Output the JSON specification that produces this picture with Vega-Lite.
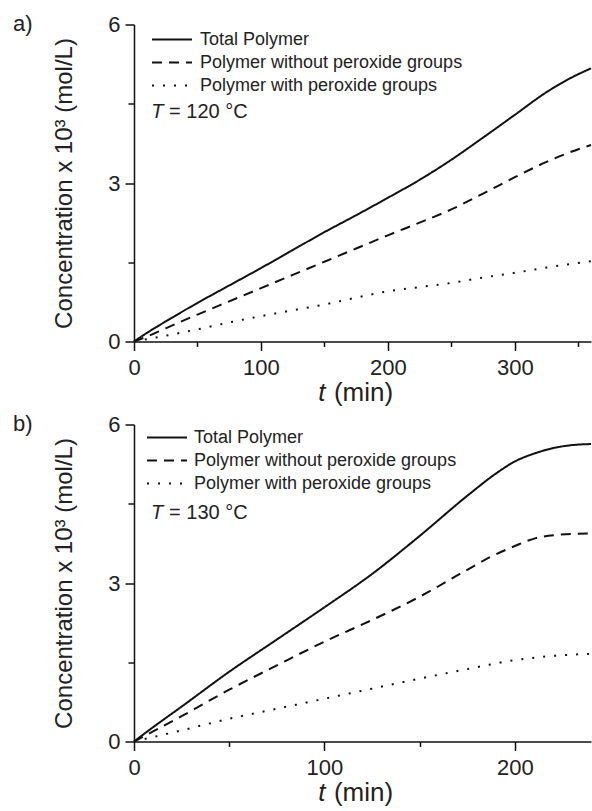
{
  "$schema": "https://vega.github.io/schema/vega-lite/v6.json",
  "padding": {"left": 13, "top": 12.5, "right": 0, "bottom": 0},
  "spacing": 7,
  "resolve": {"scale": {"strokeDash": "independent"}, "legend": {"strokeDash": "independent"}},
  "config": {
    "font": "Liberation Sans",
    "view": {"stroke": null},
    "axis": {
      "grid": false,
      "domainColor": "#111",
      "domainWidth": 1.5,
      "tickColor": "#111",
      "tickWidth": 1.5,
      "labelColor": "#222",
      "labelFont": "Liberation Sans",
      "labelFontSize": 22,
      "titleColor": "#222",
      "titleFont": "Liberation Sans",
      "titleFontWeight": "normal"
    },
    "legend": {"padding": 0},
    "title": {"font": "Liberation Sans", "fontWeight": "normal", "color": "#222"}
  },
  "datasets": {
    "a": [
      {"t": 0, "c": 0, "s": "Total Polymer"},
      {"t": 10, "c": 0.16, "s": "Total Polymer"},
      {"t": 25, "c": 0.38, "s": "Total Polymer"},
      {"t": 50, "c": 0.73, "s": "Total Polymer"},
      {"t": 75, "c": 1.06, "s": "Total Polymer"},
      {"t": 100, "c": 1.39, "s": "Total Polymer"},
      {"t": 125, "c": 1.73, "s": "Total Polymer"},
      {"t": 150, "c": 2.07, "s": "Total Polymer"},
      {"t": 175, "c": 2.39, "s": "Total Polymer"},
      {"t": 200, "c": 2.72, "s": "Total Polymer"},
      {"t": 225, "c": 3.06, "s": "Total Polymer"},
      {"t": 250, "c": 3.44, "s": "Total Polymer"},
      {"t": 275, "c": 3.86, "s": "Total Polymer"},
      {"t": 300, "c": 4.29, "s": "Total Polymer"},
      {"t": 325, "c": 4.72, "s": "Total Polymer"},
      {"t": 345, "c": 5.0, "s": "Total Polymer"},
      {"t": 360, "c": 5.17, "s": "Total Polymer"},
      {"t": 0, "c": 0, "s": "Polymer without peroxide groups"},
      {"t": 10, "c": 0.09, "s": "Polymer without peroxide groups"},
      {"t": 25, "c": 0.25, "s": "Polymer without peroxide groups"},
      {"t": 50, "c": 0.51, "s": "Polymer without peroxide groups"},
      {"t": 75, "c": 0.76, "s": "Polymer without peroxide groups"},
      {"t": 100, "c": 1.01, "s": "Polymer without peroxide groups"},
      {"t": 125, "c": 1.26, "s": "Polymer without peroxide groups"},
      {"t": 150, "c": 1.51, "s": "Polymer without peroxide groups"},
      {"t": 175, "c": 1.76, "s": "Polymer without peroxide groups"},
      {"t": 200, "c": 2.01, "s": "Polymer without peroxide groups"},
      {"t": 225, "c": 2.25, "s": "Polymer without peroxide groups"},
      {"t": 250, "c": 2.5, "s": "Polymer without peroxide groups"},
      {"t": 275, "c": 2.8, "s": "Polymer without peroxide groups"},
      {"t": 300, "c": 3.11, "s": "Polymer without peroxide groups"},
      {"t": 325, "c": 3.4, "s": "Polymer without peroxide groups"},
      {"t": 350, "c": 3.64, "s": "Polymer without peroxide groups"},
      {"t": 360, "c": 3.72, "s": "Polymer without peroxide groups"},
      {"t": 0, "c": 0, "s": "Polymer with peroxide groups"},
      {"t": 25, "c": 0.11, "s": "Polymer with peroxide groups"},
      {"t": 50, "c": 0.23, "s": "Polymer with peroxide groups"},
      {"t": 75, "c": 0.36, "s": "Polymer with peroxide groups"},
      {"t": 100, "c": 0.48, "s": "Polymer with peroxide groups"},
      {"t": 125, "c": 0.59, "s": "Polymer with peroxide groups"},
      {"t": 150, "c": 0.7, "s": "Polymer with peroxide groups"},
      {"t": 175, "c": 0.83, "s": "Polymer with peroxide groups"},
      {"t": 200, "c": 0.95, "s": "Polymer with peroxide groups"},
      {"t": 225, "c": 1.03, "s": "Polymer with peroxide groups"},
      {"t": 250, "c": 1.11, "s": "Polymer with peroxide groups"},
      {"t": 275, "c": 1.21, "s": "Polymer with peroxide groups"},
      {"t": 300, "c": 1.3, "s": "Polymer with peroxide groups"},
      {"t": 325, "c": 1.4, "s": "Polymer with peroxide groups"},
      {"t": 360, "c": 1.52, "s": "Polymer with peroxide groups"}
    ],
    "b": [
      {"t": 0, "c": 0, "s": "Total Polymer"},
      {"t": 10, "c": 0.27, "s": "Total Polymer"},
      {"t": 25, "c": 0.66, "s": "Total Polymer"},
      {"t": 50, "c": 1.32, "s": "Total Polymer"},
      {"t": 75, "c": 1.93, "s": "Total Polymer"},
      {"t": 100, "c": 2.54, "s": "Total Polymer"},
      {"t": 125, "c": 3.17, "s": "Total Polymer"},
      {"t": 150, "c": 3.89, "s": "Total Polymer"},
      {"t": 175, "c": 4.65, "s": "Total Polymer"},
      {"t": 190, "c": 5.07, "s": "Total Polymer"},
      {"t": 200, "c": 5.3, "s": "Total Polymer"},
      {"t": 211, "c": 5.46, "s": "Total Polymer"},
      {"t": 221, "c": 5.56, "s": "Total Polymer"},
      {"t": 230, "c": 5.61, "s": "Total Polymer"},
      {"t": 240, "c": 5.63, "s": "Total Polymer"},
      {"t": 0, "c": 0, "s": "Polymer without peroxide groups"},
      {"t": 10, "c": 0.19, "s": "Polymer without peroxide groups"},
      {"t": 25, "c": 0.48, "s": "Polymer without peroxide groups"},
      {"t": 50, "c": 0.98, "s": "Polymer without peroxide groups"},
      {"t": 75, "c": 1.44, "s": "Polymer without peroxide groups"},
      {"t": 100, "c": 1.89, "s": "Polymer without peroxide groups"},
      {"t": 125, "c": 2.3, "s": "Polymer without peroxide groups"},
      {"t": 150, "c": 2.74, "s": "Polymer without peroxide groups"},
      {"t": 175, "c": 3.25, "s": "Polymer without peroxide groups"},
      {"t": 187, "c": 3.49, "s": "Polymer without peroxide groups"},
      {"t": 200, "c": 3.7, "s": "Polymer without peroxide groups"},
      {"t": 211, "c": 3.85, "s": "Polymer without peroxide groups"},
      {"t": 222, "c": 3.91, "s": "Polymer without peroxide groups"},
      {"t": 240, "c": 3.94, "s": "Polymer without peroxide groups"},
      {"t": 0, "c": 0, "s": "Polymer with peroxide groups"},
      {"t": 25, "c": 0.21, "s": "Polymer with peroxide groups"},
      {"t": 50, "c": 0.43, "s": "Polymer with peroxide groups"},
      {"t": 75, "c": 0.62, "s": "Polymer with peroxide groups"},
      {"t": 100, "c": 0.81, "s": "Polymer with peroxide groups"},
      {"t": 125, "c": 1.0, "s": "Polymer with peroxide groups"},
      {"t": 150, "c": 1.19, "s": "Polymer with peroxide groups"},
      {"t": 175, "c": 1.37, "s": "Polymer with peroxide groups"},
      {"t": 200, "c": 1.54, "s": "Polymer with peroxide groups"},
      {"t": 220, "c": 1.62, "s": "Polymer with peroxide groups"},
      {"t": 240, "c": 1.66, "s": "Polymer with peroxide groups"}
    ]
  },
  "vconcat": [
    {
      "width": 457,
      "height": 317,
      "title": {"text": "a)", "anchor": "start", "frame": "group", "dx": -121, "dy": 39, "baseline": "alphabetic", "offset": 0, "fontSize": 22},
      "layer": [
        {
          "data": {"name": "a"},
          "mark": {"type": "line", "color": "#111", "strokeWidth": 2, "interpolate": "monotone"},
          "encoding": {
            "x": {"field": "t", "type": "quantitative", "scale": {"domain": [0, 360], "nice": false},
              "axis": {"orient": "bottom", "values": [0, 100, 200, 300], "tickSize": 9, "labelPadding": 7, "title": "t", "titleFontStyle": "italic", "titleFontSize": 26, "titleAlign": "right", "titleX": 191, "titleY": 38, "titleBaseline": "top", "labelFlush": false}},
            "y": {"field": "c", "type": "quantitative", "scale": {"domain": [0, 6], "nice": false},
              "axis": {"orient": "left", "values": [0, 3, 6], "tickSize": 9, "labelPadding": 5, "title": "Concentration x 10³ (mol/L)", "titleFontSize": 24, "titlePadding": 31, "labelFlush": false}},
            "strokeDash": {"field": "s", "type": "nominal",
              "scale": {"domain": ["Total Polymer", "Polymer without peroxide groups", "Polymer with peroxide groups"], "range": [[1, 0], [10, 7], [2, 9]]},
              "legend": {"orient": "none", "legendX": 27, "legendY": 4, "title": null, "symbolType": "M-2,0H2", "symbolSize": 400, "symbolStrokeWidth": 2, "symbolStrokeColor": "#111", "labelFontSize": 18, "labelOffset": 17, "rowPadding": 3, "labelColor": "#222", "labelFont": "Liberation Sans", "labelLimit": 400}}
          }
        },
        {
          "data": {"values": [{"t": 13.5, "c": 4.35, "label": "T"}]},
          "mark": {"type": "text", "align": "left", "baseline": "middle", "fontSize": 20, "fontStyle": "italic", "color": "#222"},
          "encoding": {
            "x": {"field": "t", "type": "quantitative", "axis": {"orient": "bottom", "values": [50, 150, 250, 350], "labels": false, "domain": false, "tickSize": 5, "title": "(min)", "titleFontSize": 26, "titleY": 38, "titleBaseline": "top", "titleX": 229}},
            "y": {"field": "c", "type": "quantitative", "axis": {"orient": "left", "values": [1.5, 4.5], "labels": false, "domain": false, "tickSize": 6, "title": null}},
            "text": {"field": "label"}
          }
        },
        {
          "data": {"values": [{"t": 27.6, "c": 4.35, "label": "= 120 °C"}]},
          "mark": {"type": "text", "align": "left", "baseline": "middle", "fontSize": 20, "color": "#222"},
          "encoding": {
            "x": {"field": "t", "type": "quantitative", "axis": null},
            "y": {"field": "c", "type": "quantitative", "axis": null},
            "text": {"field": "label"}
          }
        }
      ],
      "resolve": {"axis": {"x": "independent", "y": "independent"}}
    },
    {
      "width": 457,
      "height": 317,
      "title": {"text": "b)", "anchor": "start", "frame": "group", "dx": -121, "dy": 39, "baseline": "alphabetic", "offset": 0, "fontSize": 22},
      "layer": [
        {
          "data": {"name": "b"},
          "mark": {"type": "line", "color": "#111", "strokeWidth": 2, "interpolate": "monotone"},
          "encoding": {
            "x": {"field": "t", "type": "quantitative", "scale": {"domain": [0, 240], "nice": false},
              "axis": {"orient": "bottom", "values": [0, 100, 200], "tickSize": 9, "labelPadding": 7, "title": "t", "titleFontStyle": "italic", "titleFontSize": 26, "titleAlign": "right", "titleX": 191, "titleY": 38, "titleBaseline": "top", "labelFlush": false}},
            "y": {"field": "c", "type": "quantitative", "scale": {"domain": [0, 6], "nice": false},
              "axis": {"orient": "left", "values": [0, 3, 6], "tickSize": 9, "labelPadding": 5, "title": "Concentration x 10³ (mol/L)", "titleFontSize": 24, "titlePadding": 31, "labelFlush": false}},
            "strokeDash": {"field": "s", "type": "nominal",
              "scale": {"domain": ["Total Polymer", "Polymer without peroxide groups", "Polymer with peroxide groups"], "range": [[1, 0], [10, 7], [2, 9]]},
              "legend": {"orient": "none", "legendX": 22, "legendY": 2, "title": null, "symbolType": "M-2,0H2", "symbolSize": 400, "symbolStrokeWidth": 2, "symbolStrokeColor": "#111", "labelFontSize": 18, "labelOffset": 16, "rowPadding": 3, "labelColor": "#222", "labelFont": "Liberation Sans", "labelLimit": 400}}
          }
        },
        {
          "data": {"values": [{"t": 8.9, "c": 4.33, "label": "T"}]},
          "mark": {"type": "text", "align": "left", "baseline": "middle", "fontSize": 20, "fontStyle": "italic", "color": "#222"},
          "encoding": {
            "x": {"field": "t", "type": "quantitative", "axis": {"orient": "bottom", "values": [50, 150], "labels": false, "domain": false, "tickSize": 5, "title": "(min)", "titleFontSize": 26, "titleY": 38, "titleBaseline": "top", "titleX": 229}},
            "y": {"field": "c", "type": "quantitative", "axis": {"orient": "left", "values": [1.5, 4.5], "labels": false, "domain": false, "tickSize": 6, "title": null}},
            "text": {"field": "label"}
          }
        },
        {
          "data": {"values": [{"t": 18.4, "c": 4.33, "label": "= 130 °C"}]},
          "mark": {"type": "text", "align": "left", "baseline": "middle", "fontSize": 20, "color": "#222"},
          "encoding": {
            "x": {"field": "t", "type": "quantitative", "axis": null},
            "y": {"field": "c", "type": "quantitative", "axis": null},
            "text": {"field": "label"}
          }
        }
      ],
      "resolve": {"axis": {"x": "independent", "y": "independent"}}
    }
  ]
}
